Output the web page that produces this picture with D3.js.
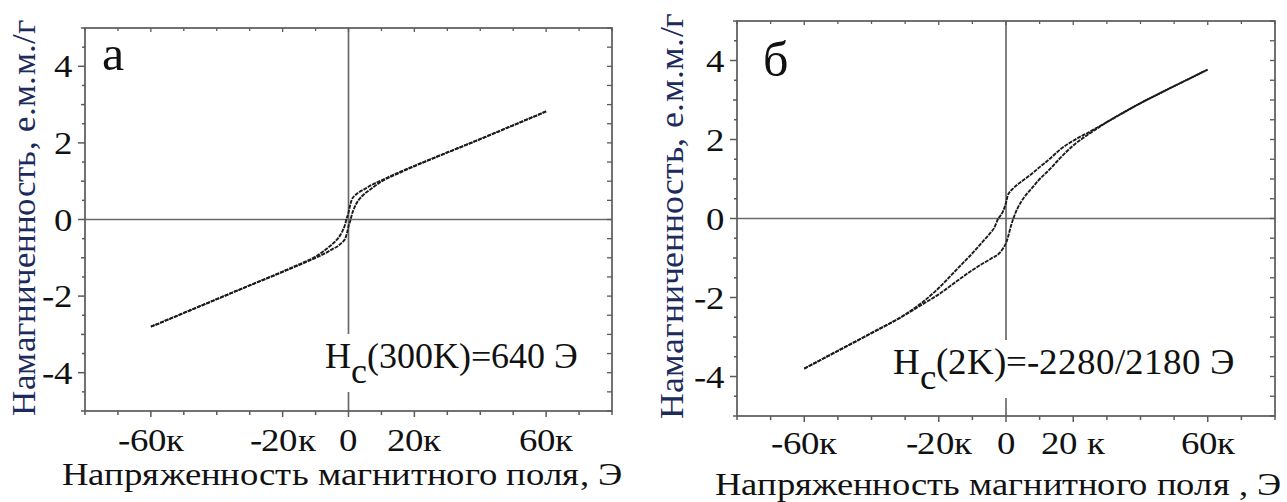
<!DOCTYPE html>
<html><head><meta charset="utf-8">
<script src="https://cdn.jsdelivr.net/npm/d3@7"></script>
<style>
@font-face{font-family:"ChartSerif";src:local("Liberation Serif"),local("LiberationSerif"),local("LiberationSerif-Regular"),local("Tinos"),local("Tinos-Regular"),local("Times New Roman");}
</style>
</head><body style="margin:0">
<svg id="c" width="1287" height="502"></svg>
<script>
// ---- data (H in Oe, M in emu/g) ----
const panelLetters = ["а", "б"];
const hcLabels = ["(300K)=640 Э", "(2K)=-2280/2180 Э"];
const xTickValues = [-60000, -20000, 0, 20000, 60000];
const xTickLabelsA = ["-60к", "-20к", "0", "20к", "60к"];
const xTickLabelsB = ["-60к", "-20к", "0", "20 к", "60к"];
const yTickValues = [-4, -2, 0, 2, 4];
const yTickLabels = ["-4", "-2", "0", "2", "4"];
const yTitle = "Намагниченность, е.м.м./г";
const xTitleA = "Напряженность магнитного поля, Э";
const xTitleB = "Напряженность магнитного поля , Э";

// panel a (300 K): descending branch
const aDescH = [60000,50000,40000,30000,20000,15000,10000,7000,5000,3000,2000,1000,300,0,-640,-1000,-2000,-3000,-4000,-5000,-7000,-10000,-15000,-20000,-30000,-40000,-50000,-60000];
const aDescM = [2.82,2.46,2.10,1.75,1.40,1.22,1.02,0.90,0.80,0.70,0.63,0.52,0.30,0.18,0.0,-0.12,-0.33,-0.47,-0.57,-0.65,-0.79,-0.97,-1.17,-1.36,-1.72,-2.08,-2.44,-2.80];
// panel a: ascending branch
const aAscH = [-60000,-50000,-40000,-30000,-20000,-15000,-10000,-7000,-5000,-3000,-2000,-1000,-300,0,640,1000,2000,3000,4000,5000,7000,10000,15000,20000,30000,40000,50000,60000];
const aAscM = [-2.80,-2.44,-2.08,-1.72,-1.37,-1.19,-1.00,-0.88,-0.78,-0.68,-0.60,-0.50,-0.30,-0.18,0.0,0.12,0.35,0.50,0.60,0.68,0.81,0.99,1.20,1.39,1.75,2.10,2.46,2.82];

// panel б (2 K): descending branch
const bDescH = [60000,50000,40000,30000,25000,20000,16000,13400,10000,7500,5000,3600,2000,1000,500,0,-800,-1500,-2280,-3600,-5000,-7500,-10000,-13400,-16000,-20000,-25000,-30000,-40000,-50000,-60000];
const bDescM = [3.77,3.35,2.92,2.44,2.20,1.97,1.74,1.54,1.30,1.12,0.96,0.87,0.75,0.66,0.58,0.40,0.20,0.09,0.0,-0.25,-0.40,-0.64,-0.88,-1.18,-1.41,-1.76,-2.13,-2.43,-2.90,-3.35,-3.80];
// panel б: ascending branch
const bAscH = [-60000,-50000,-40000,-30000,-25000,-20000,-15000,-10400,-7500,-4500,-2000,-900,0,600,1500,2180,3500,5100,7500,9600,13400,16000,20000,25000,30000,40000,50000,60000];
const bAscM = [-3.80,-3.35,-2.90,-2.44,-2.18,-1.92,-1.61,-1.33,-1.17,-1.02,-0.88,-0.76,-0.62,-0.47,-0.18,0.0,0.27,0.50,0.75,0.96,1.28,1.52,1.85,2.16,2.44,2.92,3.35,3.77];

const svg = d3.select("#c");
const FONT = "ChartSerif, 'Liberation Serif', Tinos, 'Times New Roman', 'DejaVu Serif', serif";
const SX = 1.15; // horizontal stretch of the source picture's lettering

const panels = [
  {x0:85, x1:612, y0:28, y1:411, letter:panelLetters[0], letterX:102, letterY:70,
   hc:hcLabels[0], hcX:325, hcY:368, hcSize:36, hcW:272,
   xLabels:xTickLabelsA, xTitle:xTitleA, xTitleX:342, xTitleY:485, xTitleLen:560,
   yTitleX:35, yTitleY:218, yTitleLen:396, tickLabY:451,
   series:[[aDescH,aDescM],[aAscH,aAscM]]},
  {x0:737, x1:1275, y0:21, y1:416, letter:panelLetters[1], letterX:763, letterY:76,
   hc:hcLabels[1], hcX:893, hcY:374, hcSize:37, hcW:356,
   xLabels:xTickLabelsB, xTitle:xTitleB, xTitleX:998, xTitleY:495, xTitleLen:566,
   yTitleX:683, yTitleY:216, yTitleLen:406, tickLabY:454,
   series:[[bDescH,bDescM],[bAscH,bAscM]]}
];

function stretchedText(g, x, y, txt, size, anchor) {
  return g.append("text").attr("transform", `translate(${x},${y}) scale(${SX},1)`)
    .attr("text-anchor", anchor).attr("font-family", FONT).attr("font-size", size)
    .attr("fill", "#111").text(txt);
}

panels.forEach(p => {
  const g = svg.append("g");
  const x = d3.scaleLinear().domain([-80000, 80000]).range([p.x0, p.x1]);
  const y = d3.scaleLinear().domain([-5, 5]).range([p.y1, p.y0]);
  const axisColor = "#5a5a5a";

  // zero lines
  g.append("line").attr("x1", x(-80000)).attr("x2", x(80000)).attr("y1", y(0)).attr("y2", y(0))
    .attr("stroke", "#6a6a6a").attr("stroke-width", 1.7);
  g.append("line").attr("x1", x(0)).attr("x2", x(0)).attr("y1", y(5)).attr("y2", y(-5))
    .attr("stroke", "#6a6a6a").attr("stroke-width", 1.7);

  // data
  const line = d3.line().x(d => x(d[0])).y(d => y(d[1])).curve(d3.curveMonotoneX);
  p.series.forEach(([H, M]) => {
    const pts = H.map((h, i) => [h, M[i]]).sort((a, b) => a[0] - b[0]);
    g.append("path").attr("d", line(pts)).attr("fill", "none")
      .attr("stroke", "#1c1c1c").attr("stroke-width", 1.9).attr("stroke-dasharray", "4,1");
  });

  // frame
  g.append("rect").attr("x", p.x0).attr("y", p.y0).attr("width", p.x1 - p.x0).attr("height", p.y1 - p.y0)
    .attr("fill", "none").attr("stroke", axisColor).attr("stroke-width", 1.7);

  // ticks
  const xt = d3.range(-80000, 80001, 10000);
  const yt = d3.range(-5, 5.01, 0.5);
  xt.forEach(v => {
    const big = xTickValues.includes(v);
    g.append("line").attr("x1", x(v)).attr("x2", x(v)).attr("y1", p.y1).attr("y2", p.y1 + (big ? 6 : 4))
      .attr("stroke", axisColor).attr("stroke-width", 1.5);
    g.append("line").attr("x1", x(v)).attr("x2", x(v)).attr("y1", p.y0).attr("y2", p.y0 + (big ? 4 : 3))
      .attr("stroke", axisColor).attr("stroke-width", 1.3);
  });
  yt.forEach(v => {
    const big = yTickValues.includes(v);
    const lenL = big ? 7 : (Number.isInteger(v) ? 4 : 3);
    g.append("line").attr("x1", p.x0 - lenL).attr("x2", p.x0).attr("y1", y(v)).attr("y2", y(v))
      .attr("stroke", axisColor).attr("stroke-width", 1.5);
    g.append("line").attr("x1", p.x1 - 5).attr("x2", p.x1).attr("y1", y(v)).attr("y2", y(v))
      .attr("stroke", axisColor).attr("stroke-width", 1.3);
  });

  // tick labels
  yTickValues.forEach((v, i) => {
    stretchedText(g, p.x0 - 13, y(v) + 11, yTickLabels[i], 32, "end");
  });
  xTickValues.forEach((v, i) => {
    stretchedText(g, x(v), p.tickLabY, p.xLabels[i], 32, "middle");
  });

  // titles
  g.append("text").attr("x", p.xTitleX).attr("y", p.xTitleY).attr("text-anchor", "middle")
    .attr("font-family", FONT).attr("font-size", 32).attr("fill", "#111")
    .attr("textLength", p.xTitleLen).attr("lengthAdjust", "spacingAndGlyphs").text(p.xTitle);
  g.append("text").attr("transform", `translate(${p.yTitleX},${p.yTitleY}) rotate(-90)`)
    .attr("text-anchor", "middle").attr("font-family", FONT).attr("font-size", 34).attr("fill", "#1c2a5c")
    .attr("textLength", p.yTitleLen).attr("lengthAdjust", "spacingAndGlyphs").text(yTitle);

  // panel letter
  g.append("text").attr("x", p.letterX).attr("y", p.letterY)
    .attr("font-family", FONT).attr("font-size", 50).attr("fill", "#111").text(p.letter);

  // Hc annotation with white background
  g.append("rect").attr("x", p.hcX - 2).attr("y", p.hcY - 34).attr("width", p.hcW).attr("height", 58)
    .attr("fill", "#fff");
  const t = g.append("text").attr("x", p.hcX).attr("y", p.hcY)
    .attr("font-family", FONT).attr("font-size", p.hcSize).attr("fill", "#111");
  t.append("tspan").text("H");
  t.append("tspan").attr("dy", 15).text("c");
  t.append("tspan").attr("dy", -15).text(p.hc);
});
</script>
</body></html>
